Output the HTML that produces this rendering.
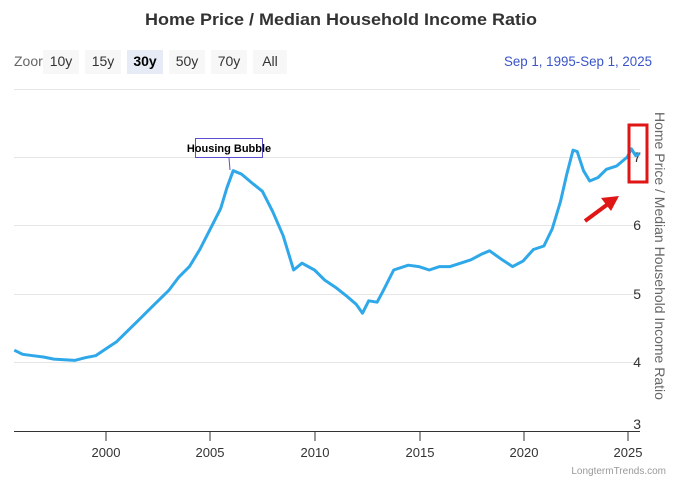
<!DOCTYPE html>
<html><head><meta charset="utf-8"><style>
body{margin:0;width:680px;height:485px;background:#fff;font-family:"Liberation Sans",sans-serif;overflow:hidden}
</style></head><body>
<svg width="680" height="485" xmlns="http://www.w3.org/2000/svg" font-family="Liberation Sans, sans-serif">
<text x="145" y="25" textLength="392" lengthAdjust="spacingAndGlyphs" font-size="17" font-weight="bold" fill="#333">Home Price / Median Household Income Ratio</text>
<text x="14" y="66" font-size="14" fill="#666">Zoor</text>
<rect x="43" y="50" width="36" height="24" fill="#f7f7f7"/><text x="61" y="66" text-anchor="middle" font-size="14" fill="#333">10y</text>
<rect x="85" y="50" width="36" height="24" fill="#f7f7f7"/><text x="103" y="66" text-anchor="middle" font-size="14" fill="#333">15y</text>
<rect x="127" y="50" width="36" height="24" fill="#e6ebf5"/><text x="145" y="66" text-anchor="middle" font-size="14" font-weight="bold" fill="#000">30y</text>
<rect x="169" y="50" width="36" height="24" fill="#f7f7f7"/><text x="187" y="66" text-anchor="middle" font-size="14" fill="#333">50y</text>
<rect x="211" y="50" width="36" height="24" fill="#f7f7f7"/><text x="229" y="66" text-anchor="middle" font-size="14" fill="#333">70y</text>
<rect x="253" y="50" width="34" height="24" fill="#f7f7f7"/><text x="270" y="66" text-anchor="middle" font-size="14" fill="#333">All</text>
<text x="504" y="66" textLength="148" lengthAdjust="spacingAndGlyphs" font-size="14" fill="#3a55c8">Sep 1, 1995‑Sep 1, 2025</text>
<g stroke="#e6e6e6" stroke-width="1">
<line x1="14" x2="640" y1="89.5" y2="89.5"/>
<line x1="14" x2="640" y1="157.5" y2="157.5"/>
<line x1="14" x2="640" y1="225.5" y2="225.5"/>
<line x1="14" x2="640" y1="294.5" y2="294.5"/>
<line x1="14" x2="640" y1="362.5" y2="362.5"/>
</g>
<line x1="14" x2="640" y1="431.5" y2="431.5" stroke="#333"/>
<g font-size="14" fill="#333" text-anchor="end">
<text x="641" y="162">7</text><text x="641" y="230">6</text><text x="641" y="299">5</text><text x="641" y="367">4</text><text x="641" y="429">3</text>
</g>
<g font-size="13" fill="#333" text-anchor="middle">
<text x="106" y="457">2000</text><text x="210" y="457">2005</text><text x="315" y="457">2010</text><text x="420" y="457">2015</text><text x="524" y="457">2020</text><text x="628" y="457">2025</text>
</g>
<g stroke="#333"><line x1="106" x2="106" y1="431" y2="441"/><line x1="210" x2="210" y1="431" y2="441"/><line x1="315" x2="315" y1="431" y2="441"/><line x1="420" x2="420" y1="431" y2="441"/><line x1="524" x2="524" y1="431" y2="441"/><line x1="628" x2="628" y1="431" y2="441"/></g>
<text transform="translate(655,112) rotate(90)" font-size="14" fill="#666">Home Price / Median Household Income Ratio</text>
<text x="666" y="474" text-anchor="end" font-size="10" fill="#999">LongtermTrends.com</text>
<path id="p" fill="none" stroke="#2fa8ea" stroke-width="3" stroke-linejoin="round"/>
<rect x="195.5" y="138.5" width="67" height="19" fill="#fff" stroke="#5a4fcf"/>
<line x1="229" y1="158" x2="230" y2="170" stroke="#5a4fcf"/>
<text x="229" y="152" text-anchor="middle" font-size="11" font-weight="bold" fill="#000">Housing Bubble</text>
<rect x="629" y="125" width="18" height="57" fill="none" stroke="#e01515" stroke-width="3"/>
<line x1="585" y1="221" x2="608" y2="204" stroke="#e01515" stroke-width="4"/>
<polygon points="619,196 601,198 611,211" fill="#e01515"/>
</svg>
<script>
var d=[[1995.6,4.18],[1996,4.12],[1996.5,4.1],[1997,4.08],[1997.5,4.05],[1998,4.04],[1998.5,4.03],[1999,4.07],[1999.5,4.1],[2000,4.2],[2000.5,4.3],[2001,4.45],[2001.5,4.6],[2002,4.75],[2002.5,4.9],[2003,5.05],[2003.5,5.25],[2004,5.4],[2004.5,5.65],[2005,5.95],[2005.5,6.25],[2005.8,6.55],[2006.1,6.8],[2006.5,6.75],[2007,6.62],[2007.5,6.5],[2008,6.2],[2008.5,5.85],[2009,5.35],[2009.4,5.45],[2010,5.35],[2010.5,5.2],[2011,5.1],[2011.5,4.98],[2012,4.85],[2012.3,4.72],[2012.6,4.9],[2013,4.88],[2013.3,5.05],[2013.8,5.35],[2014.5,5.42],[2015,5.4],[2015.5,5.35],[2016,5.4],[2016.5,5.4],[2017,5.45],[2017.5,5.5],[2018,5.58],[2018.4,5.63],[2019,5.5],[2019.5,5.4],[2020,5.48],[2020.5,5.65],[2021,5.7],[2021.4,5.95],[2021.8,6.35],[2022.1,6.75],[2022.4,7.1],[2022.6,7.08],[2022.9,6.8],[2023.2,6.65],[2023.6,6.7],[2024,6.82],[2024.5,6.87],[2025,7.0],[2025.2,7.12],[2025.4,7.02],[2025.6,7.05]];
var s="";d.forEach(function(p,i){var x=106+(p[0]-2000)*20.85,y=362.5-(p[1]-4)*68.5;s+=(i?"L":"M")+x.toFixed(1)+","+y.toFixed(1)});
document.getElementById("p").setAttribute("d",s);
</script>
</body></html>
